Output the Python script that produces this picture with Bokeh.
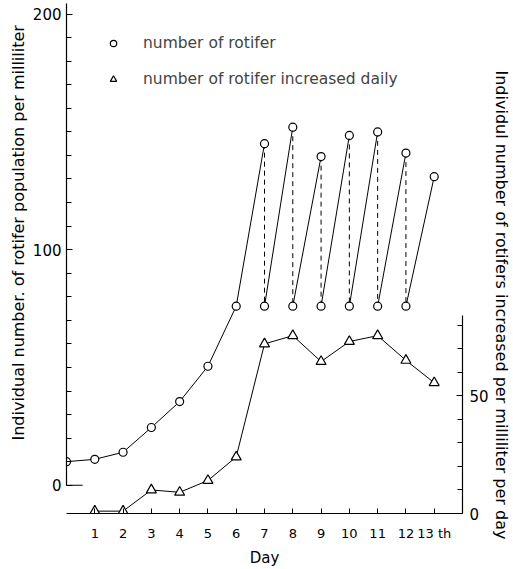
from bokeh.plotting import figure
from bokeh.models import (Range1d, LinearAxis, FixedTicker, Legend, LegendItem, Title)
from bokeh.embed import file_html
from bokeh.resources import INLINE

# ---- data ----
growth_days = [0, 1, 2, 3, 4, 5, 6]
growth_counts = [10, 11, 14, 24.5, 35.5, 50.5, 76]

peak_days = [7, 8, 9, 10, 11, 12, 13]
peak_counts = [145, 152, 139.5, 148.5, 150, 141, 131]

reset_days = [7, 8, 9, 10, 11, 12]
reset_counts = [76, 76, 76, 76, 76, 76]

inc_days = [1, 2, 3, 4, 5, 6, 7, 8, 9, 10, 11, 12, 13]
inc_counts = [1, 1, 10, 9, 14, 24, 72, 75.5, 64.5, 73, 75.5, 65, 55.5]

day_ticks = [1, 2, 3, 4, 5, 6, 7, 8, 9, 10, 11, 12, 13]
left_ticks = [0, 100, 200]
right_ticks = [0, 50]

OFFSET = 12  # right-axis zero sits 12 left-axis units below left zero
TOP = 204.5
FONT = "DejaVu Sans"

p = figure(width=512, height=569, output_backend="svg", toolbar_location=None,
           x_range=Range1d(0, 14), y_range=Range1d(-OFFSET, TOP),
           x_axis_location=None, y_axis_location=None,
           min_border_left=66, min_border_right=50, min_border_top=3,
           min_border_bottom=54)
p.extra_y_ranges = {"inc": Range1d(0, TOP + OFFSET)}
p.outline_line_color = None
p.grid.visible = False
p.background_fill_color = "white"
p.border_fill_color = "white"


def style_axis(ax, standoff, size="15px"):
    ax.axis_line_color = "black"
    ax.axis_line_width = 1.2
    ax.major_tick_line_color = "black"
    ax.minor_tick_line_color = "black"
    ax.major_tick_in = 6
    ax.major_tick_out = 0
    ax.minor_tick_in = 5
    ax.minor_tick_out = 0
    ax.major_label_standoff = standoff
    ax.major_label_text_font = FONT
    ax.major_label_text_font_size = size
    ax.major_label_text_color = "black"


left_minor = [v for v in range(10, 200, 10) if v != 100]
left = LinearAxis(ticker=FixedTicker(ticks=left_ticks, minor_ticks=left_minor),
                  bounds=(0, TOP))
style_axis(left, 5)
p.add_layout(left, "left")

right = LinearAxis(y_range_name="inc",
                   ticker=FixedTicker(ticks=right_ticks,
                                      minor_ticks=[10, 20, 30, 40, 60, 70, 80]),
                   bounds=(0, 84))
style_axis(right, 7)
p.add_layout(right, "right")

bottom = LinearAxis(ticker=FixedTicker(ticks=day_ticks),
                    major_label_overrides={13: "13 th"})
style_axis(bottom, 12, "13px")
bottom.major_tick_in = 5
bottom.axis_label = "Day"
bottom.axis_label_standoff = 5
bottom.axis_label_text_font = FONT
bottom.axis_label_text_font_size = "15px"
bottom.axis_label_text_font_style = "normal"
bottom.axis_label_text_color = "black"
p.add_layout(bottom, "below")

p.add_layout(Title(text="Individual number. of rotifer population per milliliter",
                   align="left", offset=73, standoff=4,
                   text_font=FONT, text_font_size="16px", text_font_style="normal",
                   text_color="black"), "left")
p.add_layout(Title(text="Individul number of rotifers increased per milliliter per day",
                   align="left", offset=67, standoff=0,
                   text_font=FONT, text_font_size="16px", text_font_style="normal",
                   text_color="black"), "right")

# short baseline stub at left zero
p.segment(x0=[0], y0=[0], x1=[0.57], y1=[0], line_color="black", line_width=1.2)

# rotifer population
p.line(growth_days, growth_counts, line_color="black", line_width=1)
seg_x0 = [growth_days[-1]] + reset_days
seg_y0 = [growth_counts[-1]] + reset_counts
p.segment(x0=seg_x0, y0=seg_y0, x1=peak_days, y1=peak_counts,
          line_color="black", line_width=1)
p.segment(x0=reset_days, y0=peak_counts[:-1], x1=reset_days, y1=reset_counts,
          line_color="black", line_width=1, line_dash="5 4")
circ = p.scatter(growth_days + peak_days + reset_days,
                 growth_counts + peak_counts + reset_counts,
                 marker="circle", size=8, fill_color="white",
                 line_color="black", line_width=1.2)

# daily increase
p.line(inc_days, inc_counts, y_range_name="inc", line_color="black", line_width=1)
tri = p.scatter(inc_days, inc_counts, y_range_name="inc", marker="triangle",
                size=10, fill_color="white", line_color="black", line_width=1.2)

legend = Legend(items=[LegendItem(label="number of rotifer", renderers=[circ]),
                       LegendItem(label="number of rotifer increased daily",
                                  renderers=[tri])],
                location=(39, 425), padding=0, margin=0, spacing=18,
                glyph_width=16, glyph_height=18, label_height=18,
                label_standoff=22, border_line_color=None,
                background_fill_alpha=0,
                label_text_font=FONT, label_text_font_size="15.5px")
p.add_layout(legend)

open("out.html", "w").write(file_html(p, INLINE))
